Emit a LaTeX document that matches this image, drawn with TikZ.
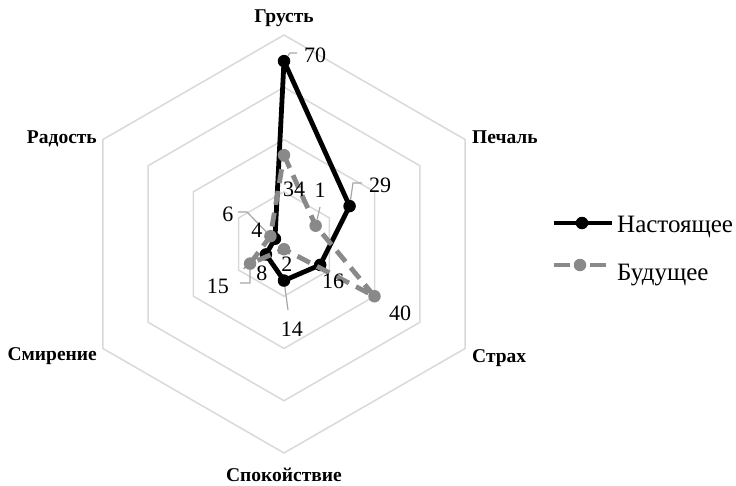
\documentclass[tikz,border=0pt]{standalone}
\usepackage{fontspec}
\setmainfont{Liberation Serif}
\usetikzlibrary{positioning}
\definecolor{ringgray}{RGB}{217,217,217}
\definecolor{leadgray}{RGB}{166,166,166}
\definecolor{futgray}{RGB}{137,137,137}
\newcommand{\unitr}{2.6125}

\begin{document}
\begin{tikzpicture}[x=1pt,y=1pt,
    ring/.style={draw=ringgray,line width=1.5pt},
    axlabel/.style={font=\fontsize{19.5}{19.5}\selectfont\bfseries,inner sep=0pt},
    val/.style={font=\fontsize{22}{22}\selectfont,inner sep=0pt,anchor=base},
    lead/.style={draw=leadgray,line width=1.2pt},
    nowline/.style={draw=black,line width=4.8pt,line join=round},
    futline/.style={draw=futgray,line width=4.8pt,dash pattern=on 14pt off 8pt},
    nowdot/.style={circle,fill=black,inner sep=0pt,minimum size=12.5pt},
    futdot/.style={circle,fill=futgray,inner sep=0pt,minimum size=12.5pt},
    legtext/.style={font=\fontsize{25}{25}\selectfont,inner sep=0pt,anchor=base west}]

\useasboundingbox (-284,-241) rectangle (452,244);

% hexagon grid
\foreach \r in {1,...,4}
  \draw[ring] (90:{52.25*\r}) -- (30:{52.25*\r}) -- (-30:{52.25*\r}) -- (-90:{52.25*\r}) -- (-150:{52.25*\r}) -- (150:{52.25*\r}) -- cycle;

% axis names
\node[axlabel,anchor=base] (G) at (0,221) {Грусть};
\node[axlabel,anchor=base west] (P) at (188,101) {Печаль};
\node[axlabel,anchor=base west] (S) at (188,-118) {Страх};
\node[axlabel,anchor=base] (K) at (0,-237) {Спокойствие};
\node[axlabel,anchor=base east] (M) at (-187,-116) {Смирение};
\node[axlabel,anchor=base east] (R) at (-187,101) {Радость};

% Настоящее
\coordinate (n1) at (90:{70*\unitr});
\coordinate (n2) at (30:{29*\unitr});
\coordinate (n3) at (-30:{16*\unitr});
\coordinate (n4) at (-90:{14*\unitr});
\coordinate (n5) at (-150:{8*\unitr});
\coordinate (n6) at (150:{4*\unitr});
\draw[nowline] (n1) -- (n2) -- (n3) -- (n4) -- (n5) -- (n6) -- cycle;
\node[nowdot] (d1) at (n1) {};
\node[nowdot] (d2) at (n2) {};
\node[nowdot] (d3) at (n3) {};
\node[nowdot] (d4) at (n4) {};
\node[nowdot] (d5) at (n5) {};
\node[nowdot] (d6) at (n6) {};

% Будущее
\coordinate (m1) at (90:{34*\unitr});
\coordinate (m2) at (30:{14*\unitr});
\coordinate (m3) at (-30:{40*\unitr});
\coordinate (m4) at (-90:{2*\unitr});
\coordinate (m5) at (-150:{15*\unitr});
\coordinate (m6) at (150:{6*\unitr});
\draw[futline] (m1) -- (m2) -- (m3) -- (m4) -- (m5) -- (m6) -- cycle;
\node[futdot] (f1) at (m1) {};
\node[futdot] (f2) at (m2) {};
\node[futdot] (f3) at (m3) {};
\node[futdot] (f4) at (m4) {};
\node[futdot] (f5) at (m5) {};
\node[futdot] (f6) at (m6) {};

% leader lines
\coordinate (c70a) at (6,191);  \coordinate (c70b) at (13,191);
\coordinate (c29a) at (69,61);  \coordinate (c29b) at (78,61);
\coordinate (c1)   at (36,37);
\coordinate (c14)  at (4,-66);
\coordinate (c15a) at (-34,-39); \coordinate (c15b) at (-44,-39);
\coordinate (c6a)  at (-37,32);  \coordinate (c6b)  at (-46,32);
\draw[lead] (d1) -- (c70a) -- (c70b);
\draw[lead] (d2) -- (c29a) -- (c29b);
\draw[lead] (f2) -- (c1);
\draw[lead] (d4) -- (c14);
\draw[lead] (f5) -- (c15a) -- (c15b);
\draw[lead] (f6) -- (c6a) -- (c6b);

% values
\node[val] (v70) at (31,181) {70};
\node[val] (v29) at (96,52) {29};
\node[val] (v16) at (49,-44) {16};
\node[val] (v14) at (8,-92) {14};
\node[val] (v8)  at (-22,-36) {8};
\node[val] (v4)  at (-27,7) {4};
\node[val] (v34) at (10,48) {34};
\node[val] (v1)  at (36,47) {1};
\node[val] (v40) at (116,-76) {40};
\node[val] (v2)  at (3,-27) {2};
\node[val] (v15) at (-66,-49) {15};
\node[val] (v6)  at (-56,23) {6};

% legend
\coordinate (kn1) at (270,21); \coordinate (kn2) at (328,21);
\draw[nowline] (kn1) -- (kn2);
\node[nowdot] (kn) at (298,21) {};
\node[legtext] (tn) at (333,12) {Настоящее};
\coordinate (kf1) at (270,-21); \coordinate (kf2) at (324,-21);
\draw[futline,dash pattern=on 16pt off 20pt] (kf1) -- (kf2);
\node[futdot] (kf) at (296,-21) {};
\node[legtext] (tf) at (333,-36) {Будущее};
\end{tikzpicture}
\end{document}
